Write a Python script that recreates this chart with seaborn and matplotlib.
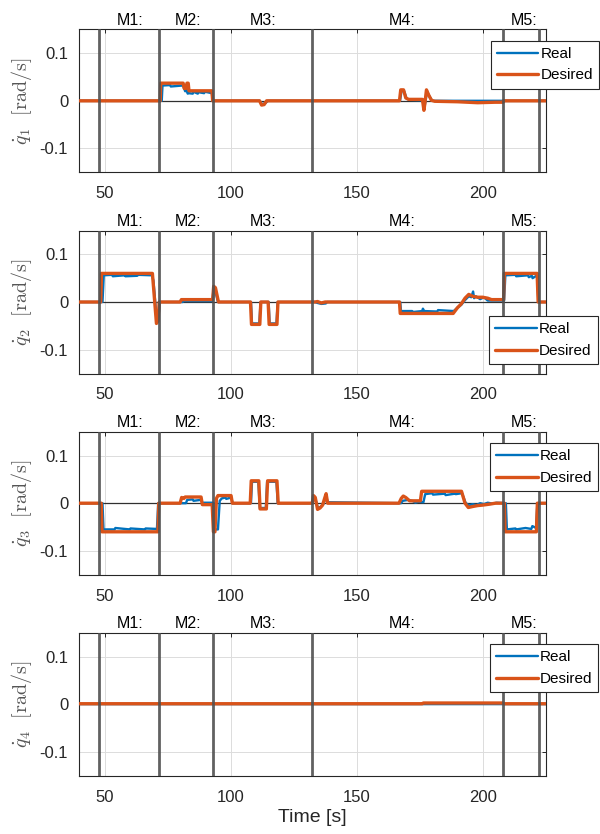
import matplotlib
matplotlib.use("Agg")
import matplotlib.pyplot as plt
import seaborn as sns

# ---------------- data ----------------
marker_times = [48.0, 71.8, 93.0, 132.2, 208.2, 222.2]
marker_labels = ["M1:", "M2:", "M3:", "M4:", "M5:"]
marker_label_x = [60.0, 83.0, 113.0, 168.0, 216.5]

# q1
q1_des_t = [40, 72.1, 72.3, 81.2, 81.6, 82.3, 82.7, 83.2, 83.5, 92.6, 92.9, 111.5, 112.3, 113.3, 114.3,
            167.0, 167.5, 168.6, 169.5, 170.6, 176.1, 176.7, 177.2, 177.7, 178.6, 179.7, 181, 190, 198,
            205, 208.0, 208.3, 225]
q1_des_v = [0, 0, 0.037, 0.037, 0.026, 0.026, 0.037, 0.037, 0.021, 0.021, 0, 0, -0.009, -0.008, 0,
            0, 0.023, 0.023, 0.006, 0.003, 0.003, -0.02, 0.0, 0.023, 0.012, 0.001, -0.001, -0.002, -0.004,
            -0.003, -0.003, 0, 0]
q1_real_t = [40, 72.7, 73.0, 76, 76.3, 80.8, 81.3, 82.0, 82.4, 83.0, 83.4, 85, 85.3, 87, 87.3, 89.5, 89.8,
             92.6, 92.9, 111.5, 112.5, 113.8, 114.8, 167.2, 167.8, 168.8, 169.8, 170.8, 176.2, 176.8, 177.3,
             177.9, 178.8, 180, 208, 225]
q1_real_v = [0, 0, 0.032, 0.033, 0.030, 0.032, 0.030, 0.020, 0.024, 0.015, 0.016, 0.015, 0.019, 0.015, 0.018,
             0.016, 0.019, 0.016, 0, 0, -0.007, -0.005, 0, 0, 0.020, 0.021, 0.005, 0.002, 0.001, -0.016,
             -0.002, 0.020, 0.010, 0, 0, 0]

# q2
q2_des_t = [40, 48.5, 48.8, 69.0, 70.6, 71.2, 71.7, 80.0, 80.5, 92.9, 93.3, 94.0, 95.2, 107.9, 108.3, 111.6,
            112.0, 114.9, 115.3, 118.4, 118.8, 133.5, 134.5, 136, 137.5, 167.0, 167.3, 188.3, 190, 191.5,
            193, 194.5, 196, 198, 200, 202, 203.5, 208.3, 208.6, 221.6, 222.0, 225]
q2_des_v = [0, 0, 0.060, 0.060, -0.045, -0.040, 0, 0, 0.005, 0.005, 0.033, 0.030, 0, 0, -0.047, -0.047,
            0, 0, -0.047, -0.047, 0, 0, 0.001, -0.002, 0, 0, -0.024, -0.024, -0.012, -0.004,
            0.008, 0.016, 0.012, 0.010, 0.010, 0.008, 0.005, 0.005, 0.060, 0.060, 0, 0]
q2_real_t = [40, 49.2, 49.7, 53, 53.3, 58, 58.3, 63, 63.3, 68.8, 69.4, 70.6, 71.2, 72.0, 81, 81.4, 92.8, 93.3,
             93.8, 95.0, 108.1, 108.5, 111.4, 111.9, 115.1, 115.5, 118.2, 118.7, 133.5, 134.5, 136, 137.8,
             138.3, 167.3, 167.6, 172, 172.3, 176, 176.3, 176.8, 182, 182.3, 188.5, 190, 191.5, 193, 194.5,
             195.5, 196.2, 196.6, 197.3, 199, 200.5, 202, 204, 208.5, 209.0, 213, 213.3, 218, 218.3, 219.5,
             219.8, 221.6, 222.1, 225]
q2_real_v = [0, 0, 0.056, 0.057, 0.054, 0.056, 0.054, 0.055, 0.057, 0.056, 0.045, -0.030, -0.040, 0, 0, 0.002,
             0.002, 0.030, 0.026, 0, 0, -0.045, -0.045, 0, 0, -0.045, -0.045, 0, 0, -0.002, -0.004, -0.003,
             0, 0, -0.019, -0.019, -0.021, -0.019, -0.014, -0.019, -0.020, -0.017, -0.019, -0.012, -0.006,
             0.004, 0.012, 0.010, 0.022, 0.008, 0.012, 0.006, 0.010, 0.003, 0.003, 0.003, 0.056, 0.057, 0.054,
             0.056, 0.052, 0.055, 0.050, 0.056, 0, 0]

# q3
q3_des_t = [40, 48.7, 49.0, 71.2, 71.5, 80.0, 80.6, 81.5, 82.0, 88.3, 88.8, 92.7, 93.2, 93.8, 94.4, 95.0,
            100.2, 100.7, 107.8, 108.2, 111.2, 111.7, 114.2, 114.7, 118.4, 118.9, 132.4, 132.9, 133.6, 134.5,
            135.5, 136.5, 137.3, 137.9, 138.5, 166.8, 167.7, 168.5, 169.5, 171.0, 175.3, 175.8, 191.6, 193.0,
            194.3, 196.0, 198.0, 200.0, 202.8, 205.0, 208.6, 208.9, 221.3, 221.7, 225]
q3_des_v = [0, 0, -0.060, -0.060, 0, 0, 0.012, 0.010, 0.013, 0.013, -0.003, -0.003, -0.060, -0.060, 0.010,
            0.016, 0.016, 0, 0, 0.047, 0.047, -0.012, -0.012, 0.047, 0.047, 0, 0, 0.016, 0.012, -0.013,
            -0.010, -0.004, 0.010, 0.020, 0, 0, 0.010, 0.015, 0.012, 0.005, 0.005, 0.025, 0.025, 0.000,
            -0.009, -0.007, -0.005, -0.004, -0.002, 0, 0, -0.060, -0.060, 0, 0]
q3_real_t = [40, 49.2, 49.6, 54, 54.3, 60, 60.3, 66, 66.3, 70.8, 71.3, 82.3, 82.8, 85, 85.3, 88.2, 88.8,
             93.2, 93.6, 95.0, 95.7, 96.5, 98.0, 98.3, 100.3, 100.8, 108.1, 108.5, 111.0, 111.6, 114.0, 114.5,
             115.0, 118.2, 118.7, 132.4, 132.9, 133.7, 134.6, 135.7, 136.8, 137.5, 138.0, 138.6, 167.6,
             168.3, 170.5, 172.5, 173.3, 174.5, 176.5, 177.2, 180, 180.3, 185, 185.3, 189, 189.3, 191.8,
             193.2, 194.6, 196, 197.5, 199, 200.5, 202, 204, 205.5, 209.2, 209.6, 213, 213.3, 217, 219.3,
             219.7, 221.2, 221.7, 225]
q3_real_v = [0, 0, -0.055, -0.055, -0.052, -0.055, -0.053, -0.055, -0.053, -0.054, 0, 0, 0.007, 0.008, 0.005,
             0.007, 0.001, 0.001, -0.055, -0.055, 0.005, 0.010, 0.012, 0.009, 0.012, 0, 0, 0.045, 0.045,
             -0.010, -0.010, 0.045, 0.045, 0.045, 0, 0, 0.012, 0.008, -0.010, -0.008, -0.002, 0.008, 0.012,
             0.002, 0, 0.005, 0.007, 0.004, 0.001, 0.003, 0.002, 0.019, 0.021, 0.018, 0.020, 0.017, 0.020,
             0.019, 0.021, 0.001, -0.005, -0.002, -0.004, 0.000, -0.002, 0.001, -0.001, 0.001, 0.000,
             -0.055, -0.053, -0.055, -0.052, -0.054, -0.048, -0.052, 0, 0]

# q4
q4_des_t = [40, 176.0, 176.5, 208.0, 208.5, 225]
q4_des_v = [0.001, 0.001, 0.0025, 0.0025, 0.001, 0.001]
q4_real_t = [40, 225]
q4_real_v = [0, 0]

real_t = [q1_real_t, q2_real_t, q3_real_t, q4_real_t]
real_v = [q1_real_v, q2_real_v, q3_real_v, q4_real_v]
des_t = [q1_des_t, q2_des_t, q3_des_t, q4_des_t]
des_v = [q1_des_v, q2_des_v, q3_des_v, q4_des_v]

xticks = [50, 100, 150, 200]
yticks = [-0.1, 0, 0.1]
ytick_labels = ["-0.1", "0", "0.1"]

# ---------------- style ----------------
sns.set_style("white")
plt.rcParams["font.family"] = ["Liberation Sans", "DejaVu Sans"]
plt.rcParams["mathtext.fontset"] = "cm"
plt.rcParams["axes.unicode_minus"] = False

BLUE = "#0072BD"
ORANGE = "#D95319"
DARK = "#262626"

fig = plt.figure(figsize=(6, 8.34), dpi=100)
left = 79.3 / 600
width = (545.7 - 79.3) / 600
height = 143.0 / 834
tops_px = [29.3, 230.5, 431.7, 632.7]
legend_pos = [("upper left", (0.883, 0.92)), ("lower left", (0.879, 0.066)),
              ("upper left", (0.881, 0.92)), ("upper left", (0.881, 0.92))]

axes = []
for i in range(4):
    bottom = 1 - (tops_px[i] + 143.0) / 834
    ax = fig.add_axes([left, bottom, width, height])
    axes.append(ax)

    ax.axhline(0, color="#303030", lw=0.9, zorder=1)
    sns.lineplot(x=real_t[i], y=real_v[i], ax=ax, color=BLUE, lw=1.7, label="Real",
                 estimator=None, sort=False, zorder=3)
    sns.lineplot(x=des_t[i], y=des_v[i], ax=ax, color=ORANGE, lw=2.4, label="Desired",
                 estimator=None, sort=False, zorder=4)
    for xm in marker_times:
        ax.axvline(xm, color="#505050", lw=2.0, alpha=0.9, zorder=5)
    for lab, xl in zip(marker_labels, marker_label_x):
        ax.text(xl, 1.012, lab, transform=ax.get_xaxis_transform(), ha="center", va="bottom",
                fontsize=11.5, color="black")

    ax.set_xlim(40, 225)
    ax.set_ylim(-0.15, 0.15)
    ax.set_xticks(xticks)
    ax.set_yticks(yticks)
    ax.set_yticklabels(ytick_labels)
    ax.grid(True, color="#dcdcdc", lw=0.7, zorder=0)
    ax.set_axisbelow(True)
    ax.tick_params(direction="in", length=3, width=0.7, colors=DARK, labelsize=12,
                   top=True, right=True)
    ax.tick_params(axis="x", pad=10)
    ax.tick_params(axis="y", pad=8)
    for sp in ax.spines.values():
        sp.set_color(DARK)
        sp.set_linewidth(0.8)
    ax.set_xlabel("")
    ax.set_ylabel(r"$\dot{q}_{%d}\ \ \mathrm{[rad/s]}$" % (i + 1), color="#555555", fontsize=14.5,
                  labelpad=4)

    loc, anchor = legend_pos[i]
    leg = ax.legend(loc=loc, bbox_to_anchor=anchor, fontsize=11, frameon=True, fancybox=False,
                    framealpha=1, edgecolor=DARK, handlelength=2.7, handletextpad=0.15,
                    borderpad=0.4, borderaxespad=0, labelspacing=0.5)
    leg.get_frame().set_linewidth(0.8)
    leg.set_zorder(10)
    for txt in leg.get_texts():
        txt.set_color("black")

axes[-1].set_xlabel("Time [s]", fontsize=14, color=DARK, labelpad=3)

fig.savefig("out.png", dpi=100)
